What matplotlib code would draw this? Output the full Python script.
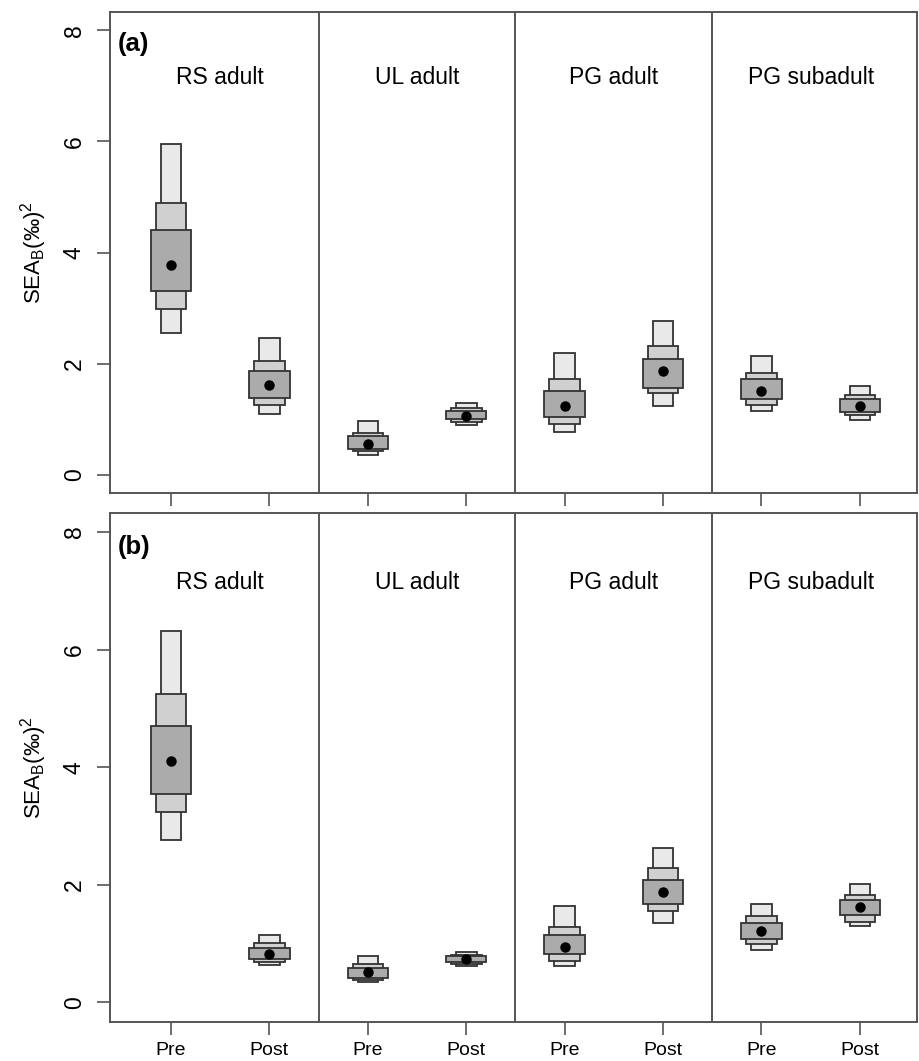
import numpy as np
import matplotlib
matplotlib.use('Agg')
import matplotlib.pyplot as plt

plt.rcParams['font.family'] = ['Liberation Sans', 'DejaVu Sans']
plt.rcParams['mathtext.fontset'] = 'custom'
plt.rcParams['mathtext.rm'] = 'Liberation Sans'

# groups and periods
groups = ['RS adult', 'UL adult', 'PG adult', 'PG subadult']
periods = ['Pre', 'Post']

# panel (a): mode and credible intervals (95, 75, 50 %)
mode_a = [3.77, 1.62, 0.55, 1.06, 1.24, 1.86, 1.51, 1.24]
hi95_a = [5.95, 2.46, 0.96, 1.30, 2.19, 2.77, 2.14, 1.59]
lo95_a = [2.55, 1.09, 0.36, 0.90, 0.77, 1.24, 1.14, 0.99]
hi75_a = [4.90, 2.05, 0.75, 1.20, 1.72, 2.31, 1.84, 1.43]
lo75_a = [2.99, 1.26, 0.42, 0.95, 0.91, 1.47, 1.25, 1.07]
hi50_a = [4.41, 1.86, 0.70, 1.15, 1.50, 2.08, 1.72, 1.36]
lo50_a = [3.30, 1.39, 0.47, 1.00, 1.03, 1.57, 1.36, 1.13]

# panel (b)
mode_b = [4.11, 0.83, 0.51, 0.73, 0.94, 1.88, 1.22, 1.62]
hi95_b = [6.31, 1.14, 0.78, 0.85, 1.64, 2.62, 1.68, 2.02]
lo95_b = [2.77, 0.63, 0.34, 0.62, 0.62, 1.35, 0.89, 1.30]
hi75_b = [5.24, 1.01, 0.66, 0.81, 1.29, 2.28, 1.47, 1.83]
lo75_b = [3.24, 0.69, 0.38, 0.65, 0.71, 1.55, 1.00, 1.37]
hi50_b = [4.70, 0.93, 0.59, 0.78, 1.15, 2.08, 1.35, 1.74]
lo50_b = [3.54, 0.73, 0.42, 0.68, 0.82, 1.68, 1.08, 1.48]

panels = [
    ('(a)', mode_a, (lo95_a, hi95_a), (lo75_a, hi75_a), (lo50_a, hi50_a)),
    ('(b)', mode_b, (lo95_b, hi95_b), (lo75_b, hi75_b), (lo50_b, hi50_b)),
]

fills = ['#e9e9e9', '#d0d0d0', '#ababab']
widths = [0.21, 0.31, 0.41]
frame = '#555555'

fig = plt.figure(figsize=(9.19, 10.61), dpi=100)
rects = [[0.1197, 0.5353, 0.8781, 0.4534], [0.1197, 0.0370, 0.8781, 0.4798]]

x = np.arange(1, len(groups) * len(periods) + 1)

for k, (tag, mode, i95, i75, i50) in enumerate(panels):
    ax = fig.add_axes(rects[k])
    for (lo, hi), c, w in zip([i95, i75, i50], fills, widths):
        lo = np.array(lo); hi = np.array(hi)
        ax.bar(x, hi - lo, bottom=lo, width=w, color=c, edgecolor='#333333',
               linewidth=1.3, zorder=2)
    ax.plot(x, mode, 'o', color='black', ms=6.5, zorder=3)

    for s in np.arange(2.5, len(x), 2):
        ax.axvline(s, color=frame, lw=1.4, zorder=1)

    for g, name in enumerate(groups):
        ax.text(2 * g + 1.5, 7.15, name, ha='center', va='center', fontsize=16.5)
    ax.text(0.46, 7.75, tag, ha='left', va='center', fontsize=18.5, fontweight='bold')

    ax.set_xlim(0.38, 8.58)
    ax.set_ylim(-0.33, 8.33)
    ax.set_yticks([0, 2, 4, 6, 8])
    ax.set_xticks(x)
    if k == 1:
        ax.set_xticklabels(periods * len(groups), fontsize=14)
    else:
        ax.set_xticklabels([])
    ax.tick_params(axis='both', length=9.4, width=1.2, color=frame)
    ax.tick_params(axis='x', pad=5)
    ax.tick_params(axis='y', pad=8, labelsize=16.5)
    for lab in ax.get_yticklabels():
        lab.set_rotation(90)
        lab.set_va('center')
    for sp in ax.spines.values():
        sp.set_color(frame)
        sp.set_linewidth(1.4)
    ax.set_ylabel(r'SEA$_{\mathregular{B}}$(‰)$^{\mathregular{2}}$', fontsize=16, labelpad=10)

fig.savefig('out.png', dpi=100)
